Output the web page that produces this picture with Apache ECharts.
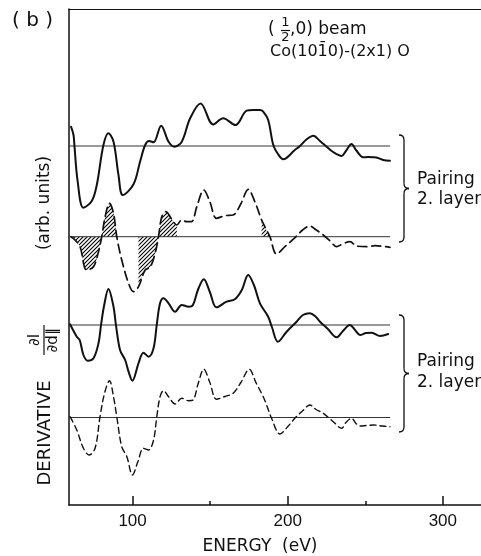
<!DOCTYPE html>
<html><head><meta charset="utf-8">
<script src="https://cdn.jsdelivr.net/npm/echarts@6/dist/echarts.min.js"></script>
<style>html,body{margin:0;padding:0;background:#fff}#c{width:481px;height:556px}</style>
</head><body><div id="c"></div>
<script>
// ---- data (energy in eV, derivative in arb. units relative to each baseline) ----
const xTicks = [100, 200, 300];
const xMinorTicks = [150, 250];

const e1 = [60.3,61.9,62.5,64.6,68.3,73.7,76.9,81.2,84.4,87.7,90.9,93.7,100.6,104.8,108.1,110.6,113.5,118.4,123.2,127,131.7,137.1,143.8,152,158.4,166.3,173.5,177.7,182.1,184.2,187.4,190.7,193.7,197.1,204.6,207.9,211.7,216.5,220.8,225.1,229.2,234.8,237.5,241.2,244,248.7,251.7,255.2,258.2,261.5,265.9];
const v1 = [19.3,11,0.3,-35.7,-61.7,-55,-39,1,12.7,4.3,-29,-49,-38.3,-15.7,1,5,3.7,20.3,4.3,-0.7,4.3,27.7,42.5,21.5,27.7,21,35.3,36,36,34.3,26,1,-8,-13.3,-4,0,6,10.3,5,-0.7,-6,-10,-5,2,-4,-11.3,-11,-11.3,-12,-14,-14.7];

const e2 = [60.3,62.7,66.1,70.4,74.8,78,80.1,82.3,85.1,87.7,89.8,93,97.4,100.6,103.8,108.1,111.3,114.5,116.7,118.8,121.4,125.3,128.5,131.7,134.9,138,141.4,145.9,149.8,154.1,159.5,164.8,169.8,174.5,178.8,183.2,185.9,188.5,192.8,198.2,205.7,209.8,214.3,218.2,222.9,227.2,231.5,235.6,240.1,244.4,250.9,256.3,260.8,265.9];
const v2 = [0,-3,-10,-33.3,-30,-15,0,20,33.4,23.4,0,-23.3,-46.6,-55,-50,-33.3,-30.6,-16.6,0,20,25,17.4,11.7,16.7,15,15,30,46.7,35,18.4,21,21.7,33,47.4,35,16.7,8,0,-17.3,-10,0.7,7,10.7,7,1.7,-4,-10,-7,-5,-9.3,-10,-9,-9.5,-10.6];

const e3 = [59.7,64,65.9,68.3,71.1,74.8,78,79.7,81.7,84.4,87.7,89.2,91.9,95.2,97.4,99.9,103.8,107,110.3,113.5,115.6,117.7,119.9,123.2,127.4,131.7,136.1,138.9,142.1,145.9,149.8,154.1,160.6,165.9,170.4,174.5,178.2,182.1,187.4,189.8,193.7,199.3,205.7,209.8,214.3,218.2,220.8,225.9,231.5,235.6,240.1,243.4,246.6,250.5,254.1,259.5,264.8];
const v3 = [0.7,-11.7,-15,-30,-35.7,-33.3,-18.3,0.7,20,36,18.3,0.7,-25,-35,-46.7,-55.7,-38.3,-27.7,-31.7,-23.3,0.7,21.7,26.7,21.7,13.3,20,18.3,20,35,45.7,33,17.7,23.3,25.7,35,50,40,21.7,8.3,-2,-16.7,-6.7,3.3,10,11.7,8,3.3,-4,-12.3,-6,0,-5,-10,-8,-7.7,-11,-9];

const e4 = [59.7,64,68.3,71.9,75.8,79,81.9,85.1,87.7,89.8,93,96.3,99.9,103.4,107,110.3,113.5,115.6,117.7,119.9,123.2,127.4,131.7,136.1,139,142.1,145.9,149.8,154.1,159.5,164.8,169.8,175.2,179.5,184.2,186.4,189.6,195,200.1,204.6,209.8,214.3,218.2,222.9,229.2,234.8,237.5,241.2,244,246.6,250.9,255.2,260.8,265.9];
const v4 = [0.8,-12.5,-30.8,-37.5,-30.8,0.8,24.2,36.8,20.8,0.8,-29.2,-39.2,-57.5,-44.2,-30.8,-32.5,-22.5,0.8,20.8,26.8,20.8,13.5,19.2,16.8,17.5,33,48.2,35,18.2,21,24.2,35,48.2,35,20.8,12.5,-0.8,-16.5,-9,-0.8,7,12.5,8,4.2,-4,-10.8,-5,-0.8,-6,-8.5,-8,-7.5,-8.5,-9.2];

// vertical offsets (arb. units) of the four curves' zero lines
const offsets = [359, 268.3, 180, 87.5];
// energy span of the zero lines
const baselineSpan = [59, 266];
// energy ranges of curve 2 that are hatched
const hatchRanges = [[60.3,80.1],[80.1,89.8],[103.8,116.7],[116.7,128.5],[183.2,188.5]];

// ---- chart ----
const chart = echarts.init(document.getElementById('c'), null, {renderer:'canvas'});
const INK = '#111';

function pts(e, v, off){ return e.map((x,i)=>[x, v[i]+off]); }

const pc = document.createElement('canvas');
pc.width = 4; pc.height = 4;
const pctx = pc.getContext('2d');
pctx.strokeStyle = '#000'; pctx.lineWidth = 1.1;
pctx.beginPath();
pctx.moveTo(0,4); pctx.lineTo(4,0);
pctx.moveTo(-1,1); pctx.lineTo(1,-1);
pctx.moveTo(3,5); pctx.lineTo(5,3);
pctx.stroke();
const hatch = {image: pc, repeat: 'repeat'};

const curves = [[e1,v1,'solid',2],[e2,v2,[9,5],1.7],[e3,v3,'solid',2],[e4,v4,[6,4],1.4]];
const series = [];
curves.forEach((c,k)=>{
  series.push({type:'line', xAxisIndex:0, data:[[baselineSpan[0],offsets[k]],[baselineSpan[1],offsets[k]]],
    showSymbol:false, silent:true, lineStyle:{color:'#333', width:1}, z:2});
});
hatchRanges.forEach(r=>{
  const d = pts(e2,v2,offsets[1]).filter(p=>p[0]>=r[0]-1e-6 && p[0]<=r[1]+1e-6);
  series.push({type:'line', xAxisIndex:0, data:d, showSymbol:false, silent:true, smooth:0.35,
    lineStyle:{width:0, opacity:0}, areaStyle:{color:hatch, opacity:1, origin:offsets[1]}, z:1});
});
curves.forEach((c,k)=>{
  series.push({type:'line', xAxisIndex:0, data:pts(c[0],c[1],offsets[k]), showSymbol:false, silent:true,
    smooth:0.35, lineStyle:{color:INK, width:c[3], type:c[2], cap:'round', join:'round'}, z:3});
});

const FONT = 'DejaVu Sans';
function braceEls(y0, y1){
  const xl=399, xv=404, xt=409, ym=(y0+y1)/2;
  const st = {stroke:INK, lineWidth:1.3, fill:null};
  return [
    {type:'bezierCurve', shape:{x1:xl,y1:y0,x2:xv,y2:y0+5,cpx1:xv,cpy1:y0}, style:st},
    {type:'line', shape:{x1:xv,y1:y0+5,x2:xv,y2:ym-5}, style:st},
    {type:'bezierCurve', shape:{x1:xv,y1:ym-5,x2:xt,y2:ym,cpx1:xv,cpy1:ym}, style:st},
    {type:'bezierCurve', shape:{x1:xt,y1:ym,x2:xv,y2:ym+5,cpx1:xv,cpy1:ym}, style:st},
    {type:'line', shape:{x1:xv,y1:ym+5,x2:xv,y2:y1-5}, style:st},
    {type:'bezierCurve', shape:{x1:xv,y1:y1-5,x2:xl,y2:y1,cpx1:xv,cpy1:y1}, style:st}
  ];
}
function txt(x,y,s,size,extra){
  return Object.assign({type:'text', x:x, y:y, style:{text:s, fill:INK, font:size+'px "'+FONT+'"', textVerticalAlign:'middle', textAlign:'left'}}, extra||{});
}

const graphic = [
  txt(12,21,'( b )',20),
  txt(268,30,'(',17),
  txt(285.5,23,'1',13,{style:{text:'1',fill:INK,font:'13px "'+FONT+'"',textAlign:'center',textVerticalAlign:'middle'}}),
  {type:'line', shape:{x1:281,y1:30.5,x2:290,y2:30.5}, style:{stroke:INK,lineWidth:1.2}},
  txt(285.5,38,'2',13,{style:{text:'2',fill:INK,font:'13px "'+FONT+'"',textAlign:'center',textVerticalAlign:'middle'}}),
  txt(290,30,',0) beam',17),
  txt(270,52,'Co(101\u03040)-(2x1) O',16),
  txt(417,180,'Pairing',17),
  txt(417,200,'2. layer',17),
  txt(417,362,'Pairing',17),
  txt(417,383,'2. layer',17),
  {type:'text', x:260, y:547, style:{text:'ENERGY  (eV)', fill:INK, font:'17px "'+FONT+'"', textAlign:'center', textVerticalAlign:'middle'}},
  {type:'text', x:45, y:433, rotation:Math.PI/2, style:{text:'DERIVATIVE', fill:INK, font:'18px "'+FONT+'"', textAlign:'center', textVerticalAlign:'middle'}},
  {type:'text', x:45, y:203, rotation:Math.PI/2, style:{text:'(arb. units)', fill:INK, font:'17px "'+FONT+'"', textAlign:'center', textVerticalAlign:'middle'}},
  {type:'group', x:44, y:340, rotation:Math.PI/2, children:[
    {type:'text', x:0, y:-9, style:{text:'\u2202I', fill:INK, font:'15px "'+FONT+'"', textAlign:'center', textVerticalAlign:'middle'}},
    {type:'line', shape:{x1:-15,y1:0,x2:15,y2:0}, style:{stroke:INK,lineWidth:1.2}},
    {type:'text', x:0, y:9, style:{text:'\u2202d\u2225', fill:INK, font:'15px "'+FONT+'"', textAlign:'center', textVerticalAlign:'middle'}}
  ]}
].concat(braceEls(135,242)).concat(braceEls(315,432));

chart.setOption({
  animation:false,
  backgroundColor:'#fff',
  grid:{left:69, right:0, top:9, bottom:51, containLabel:false},
  xAxis:[
    {type:'value', min:59, max:324.6, position:'bottom',
     axisLine:{show:true, lineStyle:{color:INK, width:1.5}},
     axisTick:{show:true, inside:true, length:9, customValues:xTicks, lineStyle:{color:INK, width:1.5}},
     axisLabel:{show:true, customValues:xTicks, color:INK, fontSize:17, fontFamily:'Liberation Sans', margin:8},
     splitLine:{show:false}},
    {type:'value', min:59, max:324.6, position:'bottom',
     axisLine:{show:false},
     axisTick:{show:true, inside:true, length:4, customValues:xMinorTicks, lineStyle:{color:INK, width:1.5}},
     axisLabel:{show:false}, splitLine:{show:false}},
    {type:'value', min:59, max:324.6, position:'top',
     axisLine:{show:true, lineStyle:{color:INK, width:1.2}},
     axisTick:{show:false}, axisLabel:{show:false}, splitLine:{show:false}}
  ],
  yAxis:{type:'value', min:0, max:496,
     axisLine:{show:true, lineStyle:{color:INK, width:1.5}},
     axisTick:{show:false}, axisLabel:{show:false}, splitLine:{show:false}},
  series:series,
  graphic:graphic
});
</script>
</body></html>
